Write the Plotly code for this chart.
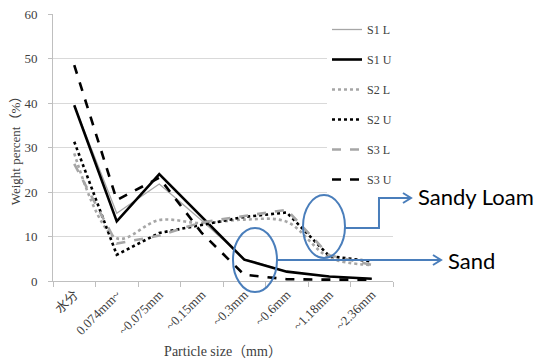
import plotly.graph_objects as go

categories = ["水分", "0.074mm~", "~0.075mm", "~0.15mm", "~0.3mm", "~0.6mm", "~1.18mm", "~2.36mm"]
s1_l = [39.5, 15.2, 21.8, 13.6, 5.0, 2.1, 1.0, 0.5]
s1_u = [39.5, 13.4, 24.0, 14.3, 4.8, 2.1, 1.0, 0.5]
s2_l = [28.7, 9.6, 13.7, 13.0, 13.8, 13.3, 5.3, 3.6]
s2_u = [31.3, 5.9, 10.8, 12.6, 14.4, 15.4, 5.6, 4.4]
s3_l = [26.3, 8.4, 10.2, 13.2, 14.6, 16.0, 5.8, 3.6]
s3_u = [48.5, 18.2, 23.2, 10.8, 1.4, 0.4, 0.3, 0.3]
y_ticks = [0, 10, 20, 30, 40, 50, 60]

GRAY = "#a6a6a6"
BLUE = "#4a7ebb"
SERIF = "Liberation Serif, Noto Sans CJK JP, serif"
SANS = "Lato, Liberation Sans, sans-serif"

series = [
    ("S1 L", s1_l, dict(color=GRAY, width=1.3, dash="solid"), "linear"),
    ("S1 U", s1_u, dict(color="black", width=2.6, dash="solid"), "linear"),
    ("S2 L", s2_l, dict(color=GRAY, width=2.6, dash="dot"), "spline"),
    ("S2 U", s2_u, dict(color="black", width=2.6, dash="dot"), "linear"),
    ("S3 L", s3_l, dict(color=GRAY, width=2.6, dash="dash"), "linear"),
    ("S3 U", s3_u, dict(color="black", width=2.6, dash="dash"), "linear"),
]

fig = go.Figure()
for name, vals, line, shape in series:
    line = dict(line, shape=shape)
    fig.add_trace(go.Scatter(x=categories, y=vals, name=name, mode="lines",
                             line=line, legendgroup=name))

# page offset of the figure (browser default body margin)
OFF = 8
W, H = 546 - OFF, 359 - OFF
L, R, T, B = 53, 393, 14, 281  # plot area in page pixels


def px(x):
    return (x - L) / (R - L)


def py(y):
    return (B - y) / (B - T)


def path(points):
    return "M " + " L ".join(f"{px(x):.4f},{py(y):.4f}" for x, y in points)


shapes = [
    dict(type="circle", xref="paper", yref="paper", x0=px(303), x1=px(345),
         y0=py(258), y1=py(195), line=dict(color=BLUE, width=2)),
    dict(type="circle", xref="paper", yref="paper", x0=px(233), x1=px(277),
         y0=py(292), y1=py(228), line=dict(color=BLUE, width=2)),
    dict(type="path", xref="paper", yref="paper",
         path=path([(345, 228), (379, 228), (379, 198), (411, 198)]),
         line=dict(color=BLUE, width=2)),
    dict(type="path", xref="paper", yref="paper",
         path=path([(403, 193), (411, 198), (403, 203)]),
         line=dict(color=BLUE, width=2)),
    dict(type="path", xref="paper", yref="paper",
         path=path([(277, 260), (441, 260)]),
         line=dict(color=BLUE, width=2)),
    dict(type="path", xref="paper", yref="paper",
         path=path([(433, 255), (441, 260), (433, 265)]),
         line=dict(color=BLUE, width=2)),
]

annotations = [
    dict(text="Sandy Loam", xref="paper", yref="paper", x=px(416), y=py(196),
         xanchor="left", yanchor="middle", showarrow=False,
         font=dict(family=SANS, size=22, color="black")),
    dict(text="Sand", xref="paper", yref="paper", x=px(446), y=py(260),
         xanchor="left", yanchor="middle", showarrow=False,
         font=dict(family=SANS, size=22, color="black")),
]

fig.update_layout(
    width=W, height=H,
    margin=dict(l=L - OFF, r=W - (R - OFF), t=T - OFF, b=H - (B - OFF), autoexpand=False),
    paper_bgcolor="white", plot_bgcolor="white",
    font=dict(family=SERIF, size=12, color="#404040"),
    showlegend=True,
    legend=dict(x=px(327), y=py(15), xanchor="left", yanchor="top",
                bgcolor="white", font=dict(family=SERIF, size=12, color="#404040"),
                tracegroupgap=11, itemwidth=30, maxheight=320),
    shapes=shapes,
    annotations=annotations,
    xaxis=dict(type="category", range=[-0.5, len(categories) - 0.5], tickangle=-45,
               showline=True, linecolor="#bfbfbf",
               linewidth=1, ticks="outside", tickson="boundaries", ticklen=5,
               tickcolor="#bfbfbf", showgrid=False, automargin=False,
               tickfont=dict(family=SERIF, size=13),
               title=dict(text="Particle size（mm）", standoff=10,
                          font=dict(family=SERIF, size=14, color="#404040"))),
    yaxis=dict(range=[0, 60], tickvals=y_ticks, showline=True, linecolor="#bfbfbf",
               linewidth=1, ticks="outside", ticklen=4, tickcolor="#bfbfbf",
               showgrid=True, gridcolor="#d9d9d9", gridwidth=1, zeroline=False,
               automargin=False, ticklabeloverflow="allow",
               tickfont=dict(family=SERIF, size=13), ticklabelstandoff=8,
               title=dict(text="Weight percent（%）", standoff=10,
                          font=dict(family=SERIF, size=13, color="#404040"))),
)

fig.write_html("out.html")
